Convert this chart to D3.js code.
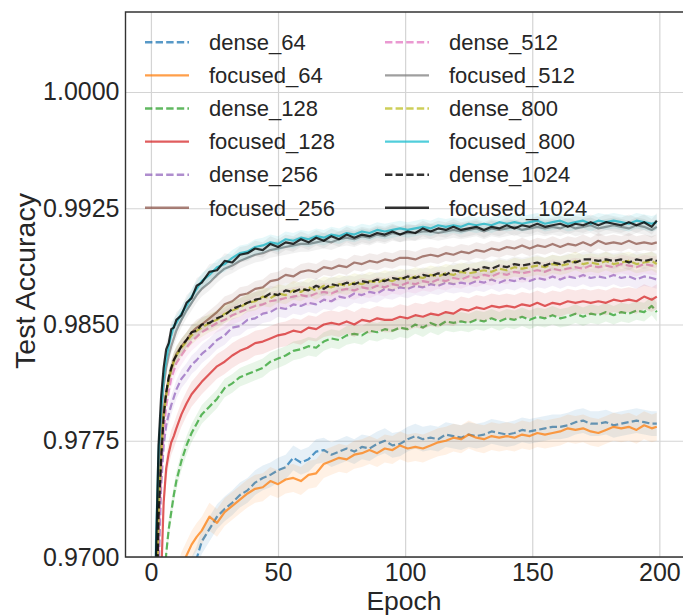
<!DOCTYPE html>
<html>
<head>
<meta charset="utf-8">
<script src="https://cdn.jsdelivr.net/npm/d3@7"></script>
<style>
  body { margin: 0; background: #fff; }
  text { font-family: "Liberation Sans", Arial, sans-serif; fill: #262626; }
</style>
</head>
<body>
<div id="chart"></div>
<script>
const epochs = [0,1,2,3,4,5,6,7,8,9,10,12,14,16,18,20,23,26,29,32,35,38,41,44,47,50,53,56,59,62,65,68,71,74,77,80,83,86,89,92,95,98,101,104,107,110,113,116,119,122,125,128,131,134,137,140,143,146,149,152,155,158,161,164,167,170,173,176,179,182,185,188,191,194,197,199];

const dense64 = [.9400,.9470,.9520,.9560,.9590,.9610,.9625,.9638,.9648,.9656,.9663,.9675,.9684,.9692,.9699,.9710,.9718,.9726,.9731,.9735,.9740,.9743,.9748,.9751,.9753,.9756,.9758,.9764,.9761,.9763,.9768,.9769,.9766,.9768,.9770,.9768,.9771,.9770,.9773,.9775,.9772,.9773,.9776,.9778,.9776,.9777,.9776,.9779,.9778,.9777,.9779,.9778,.9779,.9781,.9780,.9779,.9780,.9782,.9781,.9782,.9783,.9784,.9784,.9785,.9787,.9788,.9786,.9786,.9787,.9785,.9786,.9787,.9788,.9787,.9786,.9786];
const focused64 = [.9420,.9490,.9540,.9580,.9610,.9632,.9648,.9660,.9670,.9678,.9684,.9694,.9701,.9708,.9713,.9717,.9726,.9722,.9729,.9733,.9737,.9741,.9744,.9745,.9749,.9747,.9750,.9751,.9749,.9753,.9754,.9760,.9762,.9764,.9763,.9766,.9767,.9769,.9767,.9770,.9769,.9772,.9770,.9771,.9770,.9772,.9774,.9775,.9777,.9776,.9779,.9777,.9776,.9778,.9777,.9778,.9777,.9779,.9778,.9780,.9779,.9780,.9781,.9783,.9782,.9783,.9781,.9780,.9782,.9784,.9783,.9784,.9782,.9785,.9783,.9784];
const dense128 = [.8850,.9200,.9420,.9550,.9620,.9670,.9702,.9718,.9729,.9740,.9749,.9762,.9772,.9780,.9786,.9792,.9797,.9802,.9809,.9812,.9816,.9818,.9820,.9822,.9826,.9828,.9830,.9833,.9834,.9836,.9835,.9839,.9841,.9840,.9843,.9844,.9843,.9846,.9845,.9847,.9846,.9848,.9847,.9850,.9848,.9851,.9849,.9852,.9851,.9852,.9851,.9853,.9852,.9854,.9852,.9854,.9853,.9855,.9853,.9855,.9854,.9856,.9854,.9855,.9857,.9855,.9857,.9856,.9858,.9856,.9858,.9857,.9859,.9858,.9862,.9858];
const focused128 = [.8950,.9300,.9500,.9620,.9685,.9735,.9757,.9767,.9774,.9778,.9783,.9792,.9799,.9805,.9809,.9813,.9818,.9823,.9826,.9830,.9833,.9835,.9838,.9839,.9841,.9843,.9844,.9846,.9845,.9848,.9847,.9850,.9851,.9850,.9852,.9850,.9853,.9852,.9854,.9853,.9853,.9855,.9854,.9856,.9855,.9857,.9856,.9858,.9857,.9860,.9859,.9861,.9860,.9862,.9861,.9862,.9861,.9863,.9862,.9864,.9862,.9864,.9863,.9865,.9864,.9865,.9864,.9865,.9864,.9866,.9865,.9866,.9865,.9868,.9866,.9868];
const dense256 = [.9050,.9380,.9580,.9690,.9745,.9772,.9785,.9792,.9798,.9803,.9808,.9815,.9819,.9824,.9827,.9831,.9835,.9840,.9843,.9848,.9849,.9853,.9854,.9857,.9858,.9861,.9860,.9863,.9862,.9864,.9863,.9866,.9865,.9868,.9867,.9870,.9869,.9871,.9870,.9873,.9872,.9874,.9873,.9875,.9874,.9876,.9875,.9877,.9876,.9877,.9876,.9878,.9877,.9879,.9877,.9879,.9878,.9880,.9878,.9880,.9879,.9881,.9879,.9881,.9880,.9882,.9880,.9881,.9880,.9882,.9880,.9881,.9879,.9881,.9880,.9879];
const focused256 = [.9200,.9480,.9660,.9740,.9775,.9795,.9806,.9815,.9821,.9827,.9831,.9836,.9840,.9845,.9848,.9850,.9854,.9858,.9863,.9865,.9869,.9870,.9873,.9874,.9878,.9879,.9882,.9881,.9884,.9885,.9884,.9887,.9886,.9888,.9887,.9890,.9889,.9891,.9890,.9892,.9891,.9893,.9893,.9892,.9894,.9895,.9894,.9896,.9895,.9897,.9896,.9898,.9897,.9899,.9898,.9900,.9899,.9901,.9899,.9901,.9900,.9902,.9900,.9902,.9901,.9903,.9901,.9904,.9902,.9903,.9902,.9904,.9902,.9903,.9902,.9903];
const dense512 = [.9100,.9420,.9620,.9712,.9755,.9780,.9797,.9807,.9815,.9820,.9825,.9830,.9835,.9839,.9842,.9845,.9848,.9851,.9853,.9856,.9858,.9860,.9862,.9863,.9865,.9866,.9867,.9868,.9869,.9868,.9870,.9871,.9870,.9872,.9873,.9872,.9874,.9873,.9875,.9874,.9876,.9875,.9877,.9876,.9878,.9877,.9879,.9878,.9880,.9879,.9881,.9880,.9882,.9881,.9883,.9882,.9884,.9883,.9884,.9885,.9884,.9886,.9885,.9886,.9887,.9886,.9888,.9887,.9888,.9887,.9889,.9888,.9887,.9889,.9888,.9888];
const focused512 = [.9250,.9520,.9690,.9760,.9790,.9810,.9822,.9830,.9836,.9841,.9846,.9853,.9859,.9864,.9869,.9873,.9877,.9882,.9886,.9888,.9891,.9893,.9895,.9896,.9898,.9899,.9900,.9901,.9902,.9902,.9903,.9904,.9903,.9905,.9906,.9905,.9907,.9906,.9908,.9907,.9909,.9908,.9909,.9909,.9910,.9910,.9909,.9910,.9911,.9910,.9911,.9912,.9910,.9912,.9911,.9912,.9913,.9911,.9912,.9913,.9912,.9913,.9912,.9914,.9912,.9913,.9914,.9912,.9913,.9914,.9913,.9912,.9914,.9913,.9911,.9913];
const dense800 = [.9160,.9460,.9645,.9728,.9765,.9791,.9804,.9814,.9821,.9826,.9830,.9835,.9839,.9843,.9846,.9848,.9851,.9853,.9857,.9859,.9861,.9864,.9865,.9868,.9867,.9870,.9869,.9872,.9871,.9874,.9872,.9875,.9874,.9876,.9875,.9877,.9876,.9878,.9877,.9879,.9878,.9880,.9879,.9881,.9880,.9882,.9881,.9883,.9882,.9884,.9883,.9884,.9885,.9884,.9886,.9885,.9887,.9886,.9887,.9888,.9887,.9889,.9888,.9889,.9891,.9889,.9890,.9889,.9891,.9889,.9890,.9891,.9889,.9890,.9891,.9889];
const focused800 = [.9320,.9560,.9710,.9768,.9795,.9815,.9828,.9836,.9843,.9849,.9851,.9857,.9862,.9868,.9873,.9878,.9882,.9887,.9889,.9893,.9896,.9897,.9900,.9901,.9903,.9902,.9905,.9904,.9906,.9905,.9907,.9906,.9908,.9907,.9909,.9908,.9910,.9909,.9911,.9910,.9911,.9912,.9911,.9912,.9913,.9912,.9914,.9913,.9914,.9913,.9915,.9914,.9915,.9914,.9916,.9915,.9916,.9915,.9916,.9917,.9915,.9916,.9917,.9915,.9916,.9917,.9915,.9917,.9916,.9917,.9916,.9915,.9917,.9916,.9915,.9916];
const dense1024 = [.9150,.9450,.9640,.9725,.9762,.9790,.9806,.9816,.9822,.9827,.9830,.9836,.9840,.9845,.9846,.9850,.9851,.9854,.9856,.9860,.9862,.9864,.9866,.9867,.9870,.9869,.9872,.9871,.9873,.9872,.9875,.9873,.9876,.9875,.9877,.9876,.9878,.9877,.9879,.9878,.9880,.9879,.9881,.9880,.9882,.9881,.9883,.9882,.9885,.9884,.9886,.9885,.9887,.9886,.9888,.9887,.9889,.9888,.9889,.9890,.9888,.9890,.9889,.9891,.9890,.9892,.9892,.9891,.9892,.9891,.9892,.9890,.9892,.9891,.9892,.9891];
const focused1024 = [.9300,.9550,.9702,.9772,.9803,.9822,.9834,.9838,.9847,.9848,.9853,.9856,.9864,.9867,.9875,.9877,.9884,.9885,.9891,.9890,.9895,.9896,.9899,.9898,.9902,.9900,.9903,.9902,.9905,.9903,.9906,.9904,.9907,.9905,.9908,.9906,.9908,.9907,.9909,.9908,.9910,.9908,.9910,.9909,.9912,.9910,.9912,.9911,.9913,.9911,.9912,.9913,.9911,.9913,.9912,.9914,.9912,.9914,.9913,.9915,.9913,.9914,.9915,.9913,.9915,.9914,.9916,.9914,.9916,.9915,.9914,.9916,.9914,.9916,.9913,.9917];

// run-to-run spread (half width of the shaded band)
const spread = [0.0008, 0.0009, 0.0006, 0.0008, 0.0006, 0.0005, 0.0006, 0.0005, 0.0006, 0.0005, 0.0005, 0.0005];

const names = ["dense_64", "focused_64", "dense_128", "focused_128", "dense_256", "focused_256",
  "dense_512", "focused_512", "dense_800", "focused_800", "dense_1024", "focused_1024"];
const values = [dense64, focused64, dense128, focused128, dense256, focused256,
  dense512, focused512, dense800, focused800, dense1024, focused1024];
const colors = ["#1f77b4", "#ff7f0e", "#2ca02c", "#d62728", "#9467bd", "#8c564b",
  "#e377c2", "#7f7f7f", "#bcbd22", "#17becf", "#000000", "#000000"];

const xTicks = [0, 50, 100, 150, 200];
const yTicks = [0.97, 0.9775, 0.985, 0.9925, 1.0];

var margin = { top: 12, left: 125.5 },
  width = 558,
  height = 545;

var svg = d3
  .select("#chart")
  .append("svg")
  .attr("width", 683)
  .attr("height", 616)
  .append("g")
  .attr("transform", "translate(" + margin.left + "," + margin.top + ")");

var x = d3.scaleLinear().domain([-10, 209.5]).range([0, width]);
var y = d3.scaleLinear().domain([0.97, 1.005161]).range([height, 0]);

// grid
svg
  .append("g")
  .attr("transform", "translate(0," + height + ")")
  .call(d3.axisBottom(x).tickValues(xTicks).tickSize(-height).tickFormat(""))
  .call((g) => g.select(".domain").remove())
  .selectAll("line")
  .attr("stroke", "#d4d4d4")
  .attr("stroke-width", 1.2);

svg
  .append("g")
  .call(d3.axisLeft(y).tickValues(yTicks).tickSize(-width).tickFormat(""))
  .call((g) => g.select(".domain").remove())
  .selectAll("line")
  .attr("stroke", "#d4d4d4")
  .attr("stroke-width", 1.2);

svg
  .append("clipPath")
  .attr("id", "plot-clip")
  .append("rect")
  .attr("width", width)
  .attr("height", height);

var plot = svg.append("g").attr("clip-path", "url(#plot-clip)");

var series = names.map(function (name, i) {
  return {
    name: name,
    color: colors[i],
    dashed: name.startsWith("dense"),
    spread: spread[i],
    points: epochs.map(function (e, j) {
      return { epoch: e, acc: values[i][j] };
    }),
  };
});

var line = d3
  .line()
  .x((d) => x(d.epoch))
  .y((d) => y(d.acc));

series.forEach(function (s) {
  var band = d3
    .area()
    .x((d) => x(d.epoch))
    .y0((d) => y(d.acc - s.spread))
    .y1((d) => y(d.acc + s.spread));

  plot
    .append("path")
    .datum(s.points)
    .attr("d", band)
    .attr("fill", s.color)
    .attr("fill-opacity", s.color == "#000000" ? 0.05 : 0.11);

  plot
    .append("path")
    .datum(s.points)
    .attr("d", line)
    .attr("fill", "none")
    .attr("stroke", s.color)
    .attr("stroke-opacity", s.color == "#000000" ? 0.8 : 0.75)
    .attr("stroke-width", 2.2)
    .attr("stroke-linejoin", "round")
    .attr("stroke-dasharray", s.dashed ? "7.4,3.2" : null);
});

// axes with labels
svg
  .append("g")
  .attr("transform", "translate(0," + height + ")")
  .call(d3.axisBottom(x).tickValues(xTicks).tickSize(0).tickPadding(6))
  .call((g) => g.select(".domain").remove())
  .selectAll("text")
  .style("font-size", "25px")
  .style("font-family", '"Liberation Sans", Arial, sans-serif')
  .attr("fill", "#262626");

svg
  .append("g")
  .call(d3.axisLeft(y).tickValues(yTicks).tickSize(0).tickPadding(6).tickFormat(d3.format(".4f")))
  .call((g) => g.select(".domain").remove())
  .selectAll("text")
  .style("font-size", "25px")
  .style("font-family", '"Liberation Sans", Arial, sans-serif')
  .attr("fill", "#262626");

// spines
svg
  .append("path")
  .attr("d", "M" + width + ",0H0V" + height + "H" + width)
  .attr("fill", "none")
  .attr("stroke", "#333")
  .attr("stroke-width", 1.4);

// axis labels
svg
  .append("text")
  .attr("x", width / 2 - 0.5)
  .attr("y", 598)
  .attr("text-anchor", "middle")
  .style("font-size", "26.5px")
  .text("Epoch");

svg
  .append("text")
  .attr("transform", "rotate(-90)")
  .attr("x", -269)
  .attr("y", -91)
  .attr("text-anchor", "middle")
  .style("font-size", "28.5px")
  .text("Test Accuracy");

// legend, filled column by column
var legend = svg
  .selectAll(".legend")
  .data(series)
  .enter()
  .append("g")
  .attr("class", "legend")
  .attr("transform", function (d, i) {
    var col = i < 6 ? 0 : 1;
    var row = i < 6 ? i : i - 6;
    return "translate(" + (col ? 259.5 : 19.5) + "," + (30.3 + row * 33.1) + ")";
  });

legend
  .append("line")
  .attr("x1", 0)
  .attr("x2", 44)
  .attr("stroke", (d) => d.color)
  .attr("stroke-opacity", (d) => (d.color == "#000000" ? 0.8 : 0.75))
  .attr("stroke-width", 2.4)
  .attr("stroke-dasharray", (d) => (d.dashed ? "7.4,3.2" : null));

legend
  .append("text")
  .attr("x", 64)
  .attr("dy", "0.35em")
  .style("font-size", "22px")
  .text((d) => d.name);
</script>
</body>
</html>
